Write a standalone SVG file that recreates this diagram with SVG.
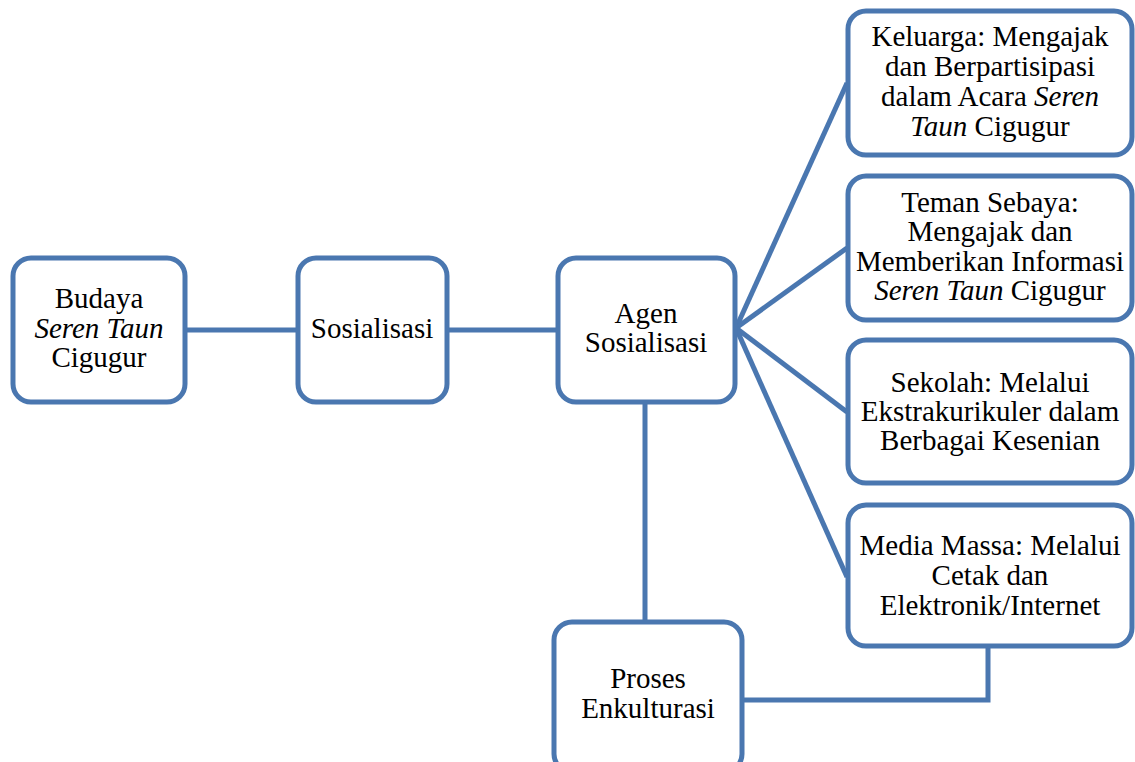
<svg xmlns="http://www.w3.org/2000/svg" width="1135" height="762" viewBox="0 0 1135 762">
  <style>
    .box { fill: #ffffff; stroke: #4A77B0; stroke-width: 5; }
    .conn { fill: none; stroke: #4A77B0; stroke-width: 5; }
    .lbl { font-family: "Liberation Serif", "Times New Roman", serif; font-size: 29px; fill: #000000; text-anchor: middle; }
    .it { font-style: italic; }
  </style>
  <rect width="1135" height="762" fill="#ffffff"/>

  <!-- connectors -->
  <g id="connectors">
    <line class="conn" x1="185" y1="330" x2="298" y2="330"/>
    <line class="conn" x1="447" y1="330" x2="558" y2="330"/>
    <line class="conn" x1="645" y1="402" x2="645" y2="622"/>
    <line class="conn" x1="736" y1="328" x2="847" y2="83"/>
    <line class="conn" x1="736" y1="328" x2="847" y2="248"/>
    <line class="conn" x1="736" y1="328" x2="847" y2="412"/>
    <line class="conn" x1="736" y1="328" x2="847" y2="577"/>
    <polyline class="conn" points="988,645 988,700 742,700"/>
  </g>

  <g id="budaya">
    <rect class="box" x="13" y="258" width="172" height="144" rx="18"/>
    <text class="lbl" x="99" y="308">Budaya</text>
    <text class="lbl it" x="99" y="338">Seren Taun</text>
    <text class="lbl" x="99" y="367">Cigugur</text>
  </g>

  <g id="sosialisasi">
    <rect class="box" x="298" y="258" width="149" height="144" rx="18"/>
    <text class="lbl" x="372" y="338">Sosialisasi</text>
  </g>

  <g id="agen">
    <rect class="box" x="558" y="258" width="177" height="144" rx="18"/>
    <text class="lbl" x="646" y="323">Agen</text>
    <text class="lbl" x="646" y="352">Sosialisasi</text>
  </g>

  <g id="keluarga">
    <rect class="box" x="848" y="11" width="284" height="144" rx="18"/>
    <text class="lbl" x="990" y="46">Keluarga: Mengajak</text>
    <text class="lbl" x="990" y="76">dan Berpartisipasi</text>
    <text class="lbl" x="990" y="106">dalam Acara <tspan class="it">Seren</tspan></text>
    <text class="lbl" x="990" y="136"><tspan class="it">Taun</tspan> Cigugur</text>
  </g>

  <g id="teman">
    <rect class="box" x="848" y="176" width="284" height="144" rx="18"/>
    <text class="lbl" x="990" y="212">Teman Sebaya:</text>
    <text class="lbl" x="990" y="241">Mengajak dan</text>
    <text class="lbl" x="990" y="271">Memberikan Informasi</text>
    <text class="lbl" x="990" y="300"><tspan class="it">Seren Taun</tspan> Cigugur</text>
  </g>

  <g id="sekolah">
    <rect class="box" x="848" y="340" width="284" height="143" rx="18"/>
    <text class="lbl" x="990" y="392">Sekolah: Melalui</text>
    <text class="lbl" x="990" y="421">Ekstrakurikuler dalam</text>
    <text class="lbl" x="990" y="450">Berbagai Kesenian</text>
  </g>

  <g id="media">
    <rect class="box" x="848" y="505" width="284" height="141" rx="18"/>
    <text class="lbl" x="990" y="555">Media Massa: Melalui</text>
    <text class="lbl" x="990" y="585">Cetak dan</text>
    <text class="lbl" x="990" y="615">Elektronik/Internet</text>
  </g>

  <g id="proses">
    <rect class="box" x="554" y="622" width="188" height="150" rx="18"/>
    <text class="lbl" x="648" y="688">Proses</text>
    <text class="lbl" x="648" y="718">Enkulturasi</text>
  </g>
</svg>
